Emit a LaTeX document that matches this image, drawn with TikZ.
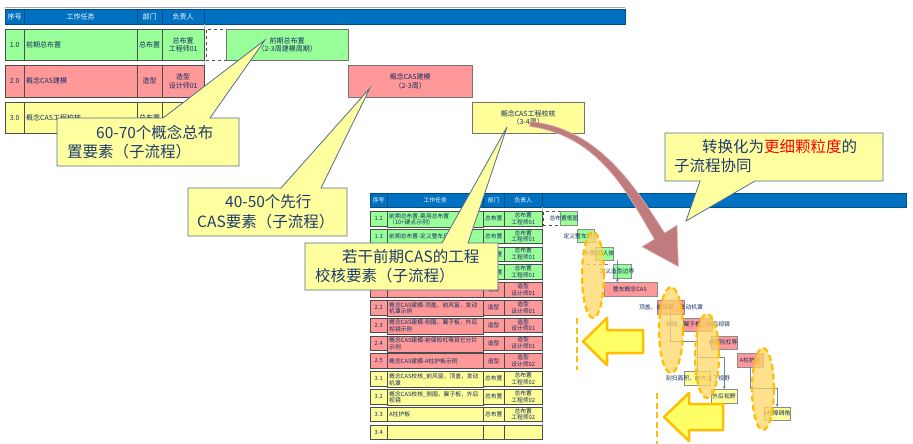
\documentclass[tikz,border=0pt]{standalone}
\usepackage{fontspec}
\setmainfont{Noto Sans CJK SC}
\usepackage{tikz}
\usetikzlibrary{arrows.meta,calc}

\definecolor{hdrblue}{RGB}{0,112,192}
\definecolor{cgreen}{RGB}{153,255,153}
\definecolor{cpink}{RGB}{255,153,153}
\definecolor{cyel}{RGB}{255,255,153}
\definecolor{tabtext}{RGB}{20,45,95}
\definecolor{callfill}{RGB}{255,255,160}
\definecolor{callline}{RGB}{80,110,145}
\definecolor{calltext}{RGB}{31,60,110}
\definecolor{bigarrow}{RGB}{192,124,124}
\definecolor{ellfill}{RGB}{255,214,102}
\definecolor{ellline}{RGB}{255,190,0}
\definecolor{linkblue}{RGB}{100,130,180}
\definecolor{arrfill}{RGB}{255,255,102}

\newcommand{\bigcell}{\fontsize{7}{8.5}\selectfont}
\newcommand{\smallcell}{\fontsize{5.8}{6.8}\selectfont}
\newcommand{\callfont}{\fontsize{15.5}{19.5}\selectfont}

\begin{document}
\begin{tikzpicture}[x=1pt, y=-1pt,
  hcell/.style={draw=hdrblue!70!black, fill=hdrblue, text=white, inner sep=0,
              anchor=north west, font=\bigcell},
  cell/.style={draw=black!70, line width=0.4pt, text=tabtext, inner sep=1pt,
              anchor=north west, align=center, font=\bigcell},
  task/.style={cell, align=left, inner sep=2pt},
  bar/.style={draw=black!55, anchor=north west, align=center, text=tabtext,
              inner sep=0, font=\bigcell},
  dashbox/.style={draw=black!70, dashed, anchor=north west, inner sep=0},
  sbar/.style={draw=black!45, line width=0.3pt, anchor=north west,
              minimum height=13.5pt, inner sep=0},
  stxt/.style={text=tabtext, inner sep=0, font=\smallcell},
  link/.style={draw=linkblue, line width=0.8pt, -{Stealth[length=3pt,width=3pt]}},
  ellip/.style={draw=ellline, fill=ellfill, fill opacity=0.75, line width=2.2pt,
              dash pattern=on 6pt off 3.5pt},
  odash/.style={draw=ellline, line width=2.2pt, dash pattern=on 6pt off 3.5pt},
  yarrow/.style={fill=arrfill, draw=ellline, line width=2.5pt, line join=round},
  bigarr/.style={fill=bigarrow, draw=bigarrow!55!white, line width=0.6pt},
  callout/.style={fill=callfill, draw=callline, line width=0.8pt},
  calltext/.style={anchor=north west, inner sep=0, align=left, text=calltext,
              font=\callfont},
  gridline/.style={draw=black!25, line width=0.6pt}]
\useasboundingbox (0,0) rectangle (913,444);

% upper plan
\draw[black!35, line width=0.8pt] (5,7.5) -- (625,7.5);
\node[hcell, minimum width=19pt, minimum height=15pt] (h0) at (5,9) {序号};
\node[hcell, minimum width=113pt, minimum height=15pt] (h1) at (24,9) {工作任务};
\node[hcell, minimum width=25pt, minimum height=15pt] (h2) at (137,9) {部门};
\node[hcell, minimum width=42pt, minimum height=15pt] (h3) at (162,9) {负责人};
\node[hcell, minimum width=421pt, minimum height=15pt] (h4) at (204,9) {};
\draw[gridline] (h3.south east) -- ++(0,111);

\foreach \no/\task/\dept/\who/\col/\yy/\hh [count=\i] in {
  1.0/前期总布置/总布置/{总布置\\工程师01}/cgreen/29/31,
  2.0/概念CAS建模/造型/{造型\\设计师01}/cpink/65/32,
  3.0/概念CAS工程校核/总布置/{总布置\\工程师02}/cyel/102/31}
{
  \node[cell, fill=\col, minimum width=19pt, minimum height=\hh pt] (t\i-n) at (5,\yy) {\no};
  \node[task, fill=\col, text width=109pt, minimum height=\hh pt] (t\i-t) at (24,\yy) {\task};
  \node[cell, fill=\col, minimum width=25pt, minimum height=\hh pt] (t\i-d) at (137,\yy) {\dept};
  \node[cell, fill=\col, minimum width=42pt, minimum height=\hh pt] (t\i-w) at (162,\yy) {\who};
}
\node[dashbox, minimum width=20pt, minimum height=31pt] (gb0) at (206,29) {};
\node[bar, fill=cgreen, minimum width=122pt, minimum height=31pt] (gb1) at (226,29) {前期总布置\\（2-3周建模周期）};
\node[bar, fill=cpink, minimum width=124pt, minimum height=32pt] (gb2) at (348,65) {概念CAS建模\\（2-3周）};
\node[bar, fill=cyel, minimum width=112pt, minimum height=31pt] (gb3) at (472,102) {概念CAS工程校核\\（3-4周）};

% lower plan
\node[hcell, font=\smallcell, minimum width=17pt, minimum height=14pt] (bh0) at (370,193) {序号};
\node[hcell, font=\smallcell, minimum width=96pt, minimum height=14pt] (bh1) at (387,193) {工作任务};
\node[hcell, font=\smallcell, minimum width=21pt, minimum height=14pt] (bh2) at (483,193) {部门};
\node[hcell, font=\smallcell, minimum width=38pt, minimum height=14pt] (bh3) at (504,193) {负责人};
\node[hcell, minimum width=364pt, minimum height=14pt] (bh4) at (542,193) {};
\draw[gridline] (bh3.south east) -- ++(0,233);

\foreach \no/\task/\dept/\who/\col [count=\i from 0] in {
  1.2/{前期总布置-乘用总布置\\（10+硬点示例）}/总布置/{总布置\\工程师01}/cgreen,
  1.3/{前期总布置-定义整车尺寸}/总布置/{总布置\\工程师01}/cgreen,
  {}/{}/总布置/{总布置\\工程师01}/cgreen,
  {}/{}/总布置/{总布置\\工程师01}/cgreen,
  {}/{}/造型/{造型\\设计师01}/cpink,
  2.2/{概念CAS建模-顶盖，前风窗，发动\\机罩示例}/造型/{造型\\设计师01}/cpink,
  2.3/{概念CAS建模-侧围，翼子板，外后\\视镜示例}/造型/{造型\\设计师01}/cpink,
  2.4/{概念CAS建模-前保险杠等其它分片\\示例}/造型/{造型\\设计师01}/cpink,
  2.5/{概念CAS建模-A柱护板示例}/造型/{造型\\设计师02}/cpink,
  3.1/{概念CAS校核\_前风窗，顶盖，发动\\机罩}/总布置/{总布置\\工程师02}/cyel,
  3.2/{概念CAS校核\_侧围，翼子板，外后\\视镜}/总布置/{总布置\\工程师02}/cyel,
  3.3/{A柱护板}/总布置/{总布置\\工程师02}/cyel,
  3.4/{}/{}/{}/cyel}
{
  \pgfmathsetmacro\yy{211+17.8*\i}
  \node[cell, font=\smallcell, fill=\col, minimum width=17pt, minimum height=14.5pt] (b\i-n) at (370,\yy) {\no};
  \node[task, font=\smallcell, fill=\col, text width=92pt, minimum height=14.5pt] (b\i-t) at (387,\yy) {\task};
  \node[cell, font=\smallcell, fill=\col, minimum width=21pt, minimum height=14.5pt] (b\i-d) at (483,\yy) {\dept};
  \node[cell, font=\smallcell, fill=\col, minimum width=38pt, minimum height=14.5pt] (b\i-w) at (504,\yy) {\who};
}

% sub-process bars
\node[dashbox, minimum width=17pt, minimum height=13.5pt] (sg0) at (543,211) {};
\foreach \nm/\r/\xa/\xb/\col/\lbl/\lx in {
  sg1/0/560/577/cgreen/总布置框图/564,
  sg2/1/577/594/cgreen/定义整车尺寸/581,
  sg3/2/595/613/cgreen/布置2D人体/599,
  sg4/3/613/631/cgreen/定义造型边界/617,
  sp5/4/604/657/cpink/整车概念CAS/630,
  sp6/5/657/684/cpink/顶盖，前风窗，发动机罩/671,
  sp7/6/683/712/cpink/侧围，翼子板，外后视镜/698,
  sp8/7/711/737/cpink/前保险杠等/723,
  sp9/8/737/763/cpink/A柱护板/750,
  sy10/9/684/710/cyel/刮扫面积，前方上下视野/698,
  sy11/10/711/737/cyel/外后视野/724,
  sy12/11/764/790/cyel/A柱障碍角/777}
{
  \pgfmathsetmacro\yy{211+17.8*\r}
  \pgfmathsetmacro\ww{\xb-\xa}
  \node[sbar, fill=\col, minimum width=\ww pt] (\nm) at (\xa,\yy) {};
  \node[stxt] (\nm-t) at (\lx,\yy+7) {\lbl};
}
\draw[link, -, dashed] ([xshift=-8pt,yshift=-4pt]sg3.south west) -- ([xshift=-3pt,yshift=-4pt]sg3.south east);
\draw[link] ([xshift=4pt]sg3.south east) -- ([xshift=4pt]sg3.south east |- sp5.north);
\draw[link] (sp6.south) -- ++(0,28) -| (sy10.north);
\draw[link] (sp7.south) -- ++(0,26) -| (sy11.north);
\draw[link] (sp9.south) -- ++(0,21) -| (sy12.north);

% groups
\draw[ellip] (593,275) ellipse [x radius=11pt, y radius=43pt];
\draw[ellip] (671,330) ellipse [x radius=12pt, y radius=43pt];
\draw[ellip] (707,356) ellipse [x radius=12pt, y radius=42pt];
\draw[ellip] (763,389) ellipse [x radius=11pt, y radius=41pt];

\draw[yarrow] (583,341.5) -- (607,318) -- (607,330) -- (643,330) -- (643,353) -- (607,353) -- (607,365) -- cycle;
\draw[yarrow] (664,417) -- (689,393) -- (689,404) -- (723,404) -- (723,430) -- (689,430) -- (689,441) -- cycle;
\draw[odash] (577,318) -- (577,370);
\draw[odash] (657,393) -- (657,444);

% big arrow
\path[bigarr] (530.3,121.5) .. controls (600.4,128.5) and (637.3,190.4) .. (664.6,232.9)
  -- (677,225.2) -- (678.4,266.6) -- (642,246.8) -- (654.4,239.2)
  .. controls (628.7,195.6) and (599.6,135.5) .. (529.7,126.5) -- cycle;

% callouts
\path[callout] (57,118) -- (163,118) -- (265,40) -- (210,118) -- (239,118) -- (239,166) -- (57,166) -- cycle;
\node[calltext] (c1) at (67,125) {\hspace*{29pt}60-70个概念总布\\置要素（子流程）};
\path[callout] (188,188) -- (281,188) -- (370,88) -- (321,188) -- (347,188) -- (347,236) -- (188,236) -- cycle;
\node[calltext] (c2) at (197,194.5) {\hspace*{28pt}40-50个先行\\CAS要素（子流程）};
\path[callout] (305,243) -- (442,243) -- (507,127) -- (468,243) -- (498,243) -- (498,290) -- (305,290) -- cycle;
\node[calltext] (c3) at (315,249) {\hspace*{27pt}若干前期CAS的工程\\校核要素（子流程）};
\path[callout] (665,133) -- (883,133) -- (883,181) -- (755,181) -- (686,221) -- (700,181) -- (665,181) -- cycle;
\node[calltext] (c4) at (674,139) {\hspace*{28pt}转换化为\textcolor{red}{更细颗粒度}的\\子流程协同};
\end{tikzpicture}
\end{document}
